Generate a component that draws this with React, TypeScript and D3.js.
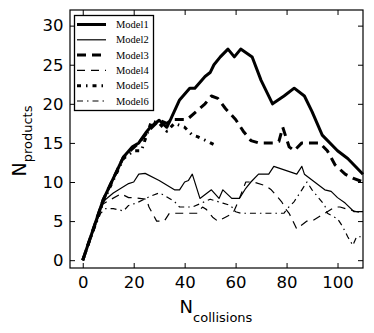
import React, { useEffect, useRef } from "react";
import * as d3 from "d3";

// tick values and legend names
const xTickValues = [0, 20, 40, 60, 80, 100];
const yTickValues = [0, 5, 10, 15, 20, 25, 30];
const modelNames = ["Model1", "Model2", "Model3", "Model4", "Model5", "Model6"];

// [N collisions, N products]
const model1: [number, number][] = [
	[0, 0], [8, 7.7], [16, 13.2], [19.5, 14.5], [22, 15], [25, 16.4], [26.5, 17],
	[30, 17.9], [33, 17], [34.5, 18], [38, 20.5], [42, 22], [44, 22], [48, 23.5],
	[50, 24], [51.5, 25], [54, 26], [57, 27], [59.5, 26], [62, 27], [66.5, 26],
	[70, 23], [74.5, 20], [79, 21], [83, 22], [87, 21], [90, 19], [92, 17.5],
	[94, 16], [100, 14], [104, 13], [110, 11],
];
const model2: [number, number][] = [
	[0, 0], [8, 7.5], [12, 8.6], [18, 9.8], [20, 10], [22, 11], [24.5, 11.1],
	[30, 10.2], [36, 9], [38, 9], [40, 10], [41.5, 10.2], [43, 11], [46, 7.9],
	[50.5, 9], [53.5, 7.9], [55, 9], [58.5, 7.9], [61.5, 7.9], [64, 9.2], [66, 10],
	[69, 11], [73, 11], [75, 12], [84, 11], [86, 12], [87, 11], [95, 9],
	[97.5, 8.8], [100, 8], [103, 7.3], [106.5, 6.2], [110, 6.2],
];
const model3: [number, number][] = [
	[0, 0], [8, 7.7], [16, 13.2], [22, 15], [26, 16.6], [30, 17.9], [33, 17.5],
	[35, 18], [41, 18], [48, 20], [50.5, 21], [53, 20.7], [56, 19.4], [60, 18],
	[63, 16.5], [66, 15.3], [69, 15], [75, 15], [77, 15.2], [78.5, 17], [81, 14.5],
	[83, 14], [86, 15], [93, 15], [96, 14], [99, 12.2], [103, 11], [106, 10.5],
	[110, 10],
];
const model4: [number, number][] = [
	[0, 0], [8, 7.2], [15, 8.5], [18, 8], [20, 8], [25, 7.8], [26, 6.8], [29, 5],
	[32, 5], [34, 6], [45, 6], [47, 6.8], [48.5, 6.5], [51, 5.5], [53, 5],
	[56, 5.5], [59, 6], [61, 7.5], [64, 10], [67, 10], [72, 9.5], [74, 9],
	[78, 7.5], [80, 6.4], [81, 6], [84, 4], [88, 5], [90, 5], [96, 6.2],
	[99, 6.8], [101, 6.8], [104, 6.5], [110, 6],
];
const model5: [number, number][] = [
	[0, 0], [8, 7.5], [16, 13], [20, 14], [23, 14], [27, 17.8], [30, 17.5],
	[33, 16.5], [36, 17.5], [40, 17], [43, 16], [45, 15.8], [49, 15.2], [52, 14.7],
];
const model6: [number, number][] = [
	[0, 0], [7, 6], [9, 6.6], [12, 6.6], [16, 6.3], [18, 7], [21, 7.3], [26, 8.1],
	[30, 8.6], [32, 8.3], [36, 7.5], [38, 6.8], [43, 6.8], [48, 7.5], [50, 7.8],
	[55, 7.3], [58, 7], [60, 6.2], [62, 6], [79, 6], [80, 6.5], [83, 7.5],
	[86, 9], [88, 10], [90, 9], [95, 7], [96, 6], [100, 5.3], [102, 4.3],
	[104, 3], [106, 1.9], [107.5, 3], [110, 3],
];
const seriesData = [model1, model2, model3, model4, model5, model6];

const lineStyles = [
	{ width: 3, dash: "none" },
	{ width: 1.2, dash: "none" },
	{ width: 3, dash: "9,6" },
	{ width: 1.2, dash: "8,6" },
	{ width: 3, dash: "4,5,1.5,5" },
	{ width: 1.2, dash: "6,4,1.5,4" },
];

const W = 374;
const H = 333;
const x = d3.scaleLinear().domain([-5, 110]).range([70, 363]);
const y = d3.scaleLinear().domain([-1, 32]).range([268, 10]);
const line = d3
	.line<[number, number]>()
	.x(d => x(d[0]))
	.y(d => y(d[1]));

const tickFont = "'DejaVu Sans', sans-serif";

export default function App() {
	const bottomRef = useRef<SVGGElement>(null);
	const leftRef = useRef<SVGGElement>(null);
	const topRef = useRef<SVGGElement>(null);
	const rightRef = useRef<SVGGElement>(null);

	useEffect(() => {
		const style = (g: any) => {
			g.select(".domain").remove();
			g.attr("font-family", tickFont).attr("font-size", 16.5);
			g.selectAll("line").attr("stroke", "#000").attr("stroke-width", 1);
			g.selectAll("text").attr("fill", "#000");
		};
		d3.select(bottomRef.current!)
			.call(d3.axisBottom(x).tickValues(xTickValues).tickSizeInner(-5).tickSizeOuter(0).tickPadding(8.5))
			.call(style);
		d3.select(leftRef.current!)
			.call(d3.axisLeft(y).tickValues(yTickValues).tickSizeInner(-5).tickSizeOuter(0).tickPadding(6.5))
			.call(style);
		d3.select(topRef.current!)
			.call(d3.axisTop(x).tickValues(xTickValues).tickSizeInner(-5).tickSizeOuter(0).tickFormat(() => ""))
			.call(style);
		d3.select(rightRef.current!)
			.call(d3.axisRight(y).tickValues(yTickValues).tickSizeInner(-5).tickSizeOuter(0).tickFormat(() => ""))
			.call(style);
	}, []);

	return (
		<svg
			width={W}
			height={H}
			style={{ position: "absolute", left: 0, top: 0, background: "#fff" }}>
			{seriesData.map((d, i) => (
				<path
					key={modelNames[i]}
					d={line(d) || ""}
					fill="none"
					stroke="#000"
					strokeWidth={lineStyles[i].width}
					strokeDasharray={lineStyles[i].dash}
					strokeLinejoin="round"/>
			))}
			<g ref={bottomRef} transform="translate(0,268)"/>
			<g ref={leftRef} transform="translate(70,0)"/>
			<g ref={topRef} transform="translate(0,10)"/>
			<g ref={rightRef} transform="translate(363,0)"/>
			<rect x={70} y={10} width={293} height={258} fill="none" stroke="#000" strokeWidth={1.2}/>

			{/* legend */}
			<rect x={74.5} y={15.5} width={79} height={95} fill="#fff" stroke="#000" strokeWidth={1.3}/>
			{modelNames.map((name, i) => {
				const cy = 24.5 + i * 15.3;
				return (
					<g key={name}>
						<line
							x1={77}
							x2={106}
							y1={cy}
							y2={cy}
							stroke="#000"
							strokeWidth={lineStyles[i].width}
							strokeDasharray={lineStyles[i].dash}/>
						<text
							x={116}
							y={cy + 3.5}
							style={{ fontFamily: "'Liberation Serif', serif", fontSize: "10.5px" }}>
							{name}
						</text>
					</g>
				);
			})}

			{/* axis labels */}
			<text
				x={216}
				y={313}
				textAnchor="middle"
				style={{ fontFamily: tickFont, fontSize: "18px" }}>
				N<tspan dy={9} style={{ fontSize: "13px" }}>collisions</tspan>
			</text>
			<text
				transform="translate(26,141) rotate(-90)"
				textAnchor="middle"
				style={{ fontFamily: tickFont, fontSize: "19px" }}>
				N<tspan dy={6} style={{ fontSize: "13px" }}>products</tspan>
			</text>
		</svg>
	);
}
